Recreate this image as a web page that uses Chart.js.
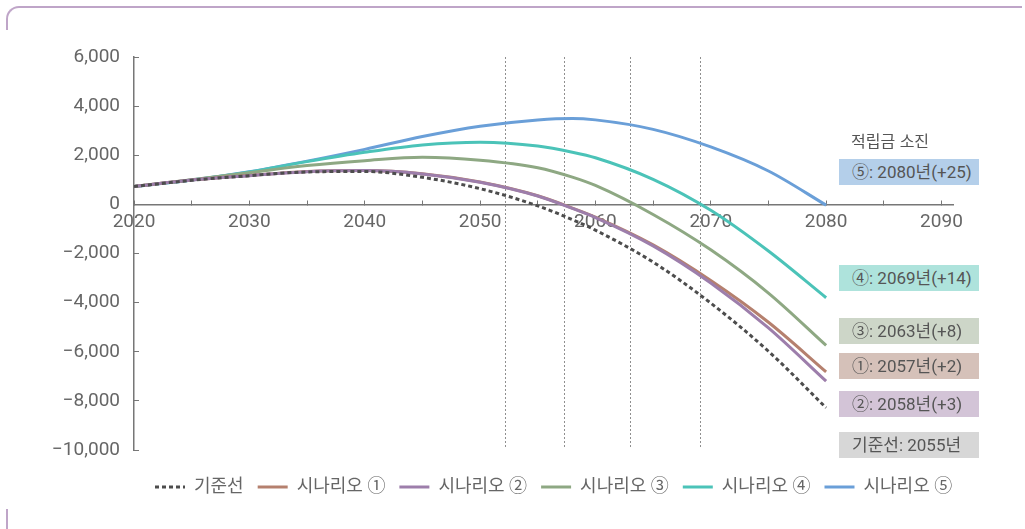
<!DOCTYPE html>
<html lang="ko">
<head>
<meta charset="utf-8">
<title>적립금 소진 시점 시나리오</title>
<script src="https://cdn.jsdelivr.net/npm/chart.js@4.4.1/dist/chart.umd.min.js"></script>
<style>
  html, body { margin: 0; padding: 0; background: #fff; }
  #wrap { position: relative; width: 1025px; height: 529px; overflow: hidden;
          font-family: Roboto, "Noto Sans CJK KR", sans-serif; }
  #c { position: absolute; left: 0; top: 0; }
  .frame-top { position: absolute; left: 6px; top: 6px; width: 1016px; height: 24px;
               border-top: 2px solid #bfa5c8; border-left: 2px solid #bfa5c8;
               border-top-left-radius: 13px; box-sizing: border-box; }
  .frame-foot { position: absolute; left: 6px; top: 509px; width: 2px; height: 20px; background: #bfa5c8; }
  .note { position: absolute; left: 851px; top: 129px; font-size: 16px; color: #555; line-height: 22px;
          font-family: "Noto Sans CJK KR", sans-serif; }
  .tag { position: absolute; left: 839px; width: 140px; height: 26px; line-height: 26px;
         box-sizing: border-box; padding-left: 13px; font-size: 17px; color: #555; white-space: nowrap; }
</style>
</head>
<body>
<div id="wrap">
  <canvas id="c" width="1025" height="529"></canvas>
  <div class="frame-top"></div>
  <div class="frame-foot"></div>
  <div class="note">적립금 소진</div>
  <div id="tags"></div>
</div>
<script>
// Projection years and fund balance per scenario
const years      = [2020, 2025, 2030, 2035, 2040, 2045, 2050, 2055, 2058, 2060, 2065, 2070, 2075, 2080];
const baseline   = [730, 980, 1170, 1320, 1340, 1100, 640, -60, -620, -1050, -2350, -4020, -5980, -8280];
const scenario1  = [730, 990, 1180, 1340, 1380, 1250, 910, 350, -150, -520, -1650, -3100, -4800, -6820];
const scenario2  = [730, 990, 1170, 1330, 1375, 1240, 900, 340, -165, -535, -1690, -3200, -5030, -7200];
const scenario3  = [730, 1000, 1290, 1580, 1780, 1920, 1800, 1494, 1110, 770, -410, -1850, -3610, -5740];
const scenario4  = [730, 990, 1320, 1740, 2120, 2420, 2530, 2375, 2125, 1900, 1020, -240, -1900, -3800];
const scenario5  = [730, 990, 1330, 1760, 2240, 2760, 3180, 3440, 3500, 3440, 3055, 2340, 1360, -30];

const seriesNames = ['기준선', '시나리오 ①', '시나리오 ②', '시나리오 ③', '시나리오 ④', '시나리오 ⑤'];

// Axis ticks
const xTickYears = [2020, 2025, 2030, 2035, 2040, 2045, 2050, 2055, 2060, 2065, 2070, 2075, 2080, 2085, 2090];
const yTickValues = [-10000, -8000, -6000, -4000, -2000, 0, 2000, 4000, 6000];

// Years where the dotted guide lines stand
const markerYears = [2052.2, 2057.3, 2063, 2069.1];

// Depletion year of each scenario, and of the baseline
const baseDepletionYear = 2055;
const tagMarks = ['⑤', '④', '③', '①', '②'];
const tagYears = [2080, 2069, 2063, 2057, 2058];

// ---- styling ----
const FONT = 'Roboto, "Noto Sans CJK KR", sans-serif';
const seriesColors = ['#4d4d4d', '#b5806e', '#9d7eab', '#8ea883', '#4bc3b8', '#6a9fd8'];
const drawOrder    = [0, 2, 1, 3, 4, 5];
const tagTops      = [159, 265, 318, 353, 391];
const tagColors    = ['#b4cfea', '#aee3dc', '#cdd6c8', '#d5c1b9', '#d3c4d7'];

const tagBox = document.getElementById('tags');
function addTag(text, top, bg) {
  const d = document.createElement('div');
  d.className = 'tag';
  d.style.top = top + 'px';
  d.style.background = bg;
  d.textContent = text;
  tagBox.appendChild(d);
}
tagMarks.forEach((m, i) => {
  addTag(m + ': ' + tagYears[i] + '년(+' + (tagYears[i] - baseDepletionYear) + ')', tagTops[i], tagColors[i]);
});
addTag('기준선: ' + baseDepletionYear + '년', 432, '#d7d7d7');

const seriesValues = [baseline, scenario1, scenario2, scenario3, scenario4, scenario5];
const datasets = seriesValues.map((vals, i) => ({
  label: seriesNames[i],
  data: years.map((yr, k) => ({ x: yr, y: vals[k] })),
  borderColor: seriesColors[i],
  backgroundColor: seriesColors[i],
  borderWidth: 3,
  borderDash: i === 0 ? [4, 3] : [],
  pointRadius: 0,
  fill: false,
  cubicInterpolationMode: 'monotone',
  order: drawOrder[i]
}));

// Dotted vertical guides at the marker years
const markerLines = {
  id: 'markerLines',
  beforeDatasetsDraw(chart) {
    const { ctx, chartArea, scales: { x } } = chart;
    ctx.save();
    ctx.strokeStyle = '#8f8f8f';
    ctx.lineWidth = 1;
    ctx.setLineDash([2, 2]);
    markerYears.forEach(yr => {
      const px = Math.round(x.getPixelForValue(yr)) + 0.5;
      ctx.beginPath();
      ctx.moveTo(px, chartArea.top);
      ctx.lineTo(px, chartArea.bottom - 3);
      ctx.stroke();
    });
    ctx.restore();
  }
};

// Place the legend row under the plot
const legendOffset = {
  id: 'legendOffset',
  afterLayout(chart) {
    const lg = chart.legend;
    if (!lg) return;
    lg.top += 14; lg.bottom += 14;
    lg.left += 141; lg.right += 141;
  }
};

new Chart(document.getElementById('c'), {
  type: 'line',
  data: { datasets },
  plugins: [markerLines, legendOffset],
  options: {
    responsive: false,
    animation: false,
    layout: { padding: { left: 0, top: 57, right: 72, bottom: 37 } },
    scales: {
      x: {
        type: 'linear',
        min: 2020,
        max: 2091,
        position: { y: 0 },
        afterBuildTicks: s => { s.ticks = xTickYears.map(v => ({ value: v })); },
        ticks: {
          autoSkip: false,
          maxRotation: 0,
          padding: 11,
          color: '#666',
          font: { family: FONT, size: 19 },
          callback: v => (v % 10 === 0 ? String(v) : '')
        },
        grid: { drawOnChartArea: false, drawTicks: true, tickLength: -5, color: '#777', lineWidth: 1 },
        border: { color: '#777', width: 1.5 }
      },
      y: {
        type: 'linear',
        min: -10000,
        max: 6000,
        afterBuildTicks: s => { s.ticks = yTickValues.map(v => ({ value: v })); },
        afterFit: s => { s.width = 134; },
        ticks: {
          padding: 19,
          color: '#666',
          font: { family: FONT, size: 19 },
          callback: v => (v < 0 ? '\u2212' : '') + Math.abs(v).toLocaleString('en-US')
        },
        grid: { drawOnChartArea: false, drawTicks: true, tickLength: -5, color: '#777', lineWidth: 1 },
        border: { color: '#777', width: 1.5 }
      }
    },
    plugins: {
      tooltip: { enabled: false },
      legend: {
        position: 'bottom',
        align: 'start',
        labels: {
          usePointStyle: true,
          pointStyle: 'line',
          pointStyleWidth: 30,
          boxWidth: 30,
          padding: 14,
          color: '#666',
          font: { family: FONT, size: 18 },
          sort: (a, b) => a.datasetIndex - b.datasetIndex,
          generateLabels(chart) {
            const items = Chart.defaults.plugins.legend.labels.generateLabels(chart);
            items.forEach(it => {
              const ds = chart.data.datasets[it.datasetIndex];
              it.lineDash = ds.borderDash;
              it.lineWidth = ds.borderWidth;
              it.strokeStyle = ds.borderColor;
            });
            return items;
          }
        }
      }
    }
  }
});
</script>
</body>
</html>
